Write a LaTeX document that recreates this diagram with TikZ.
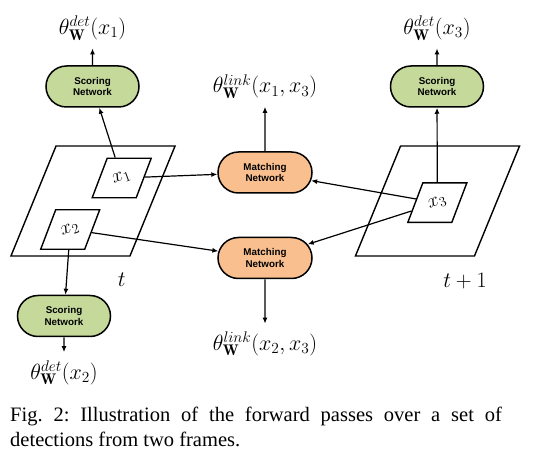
\RequirePackage{fix-cm}
\documentclass[tikz,border=0pt]{standalone}
\usepackage{fontspec}
\newfontfamily\boxfont{Liberation Sans}
\newfontfamily\capfont{Liberation Serif}
\usetikzlibrary{shapes.misc,arrows.meta}

\definecolor{scoregreen}{RGB}{197,217,154}
\definecolor{matchorange}{RGB}{249,191,143}

\tikzset{
  net/.style={rounded rectangle, draw, line width=1.5pt, minimum width=93pt,
    minimum height=41pt, inner sep=0pt, align=center,
    font=\boxfont\bfseries\fontsize{9.8}{11.5}\selectfont},
  scoring/.style={net, fill=scoregreen},
  matching/.style={net, fill=matchorange, minimum width=94pt},
  framebox/.style={draw, line width=1.4pt, xslant=0.41, minimum width=119pt,
    minimum height=110pt, inner sep=0pt},
  detbox/.style={draw, line width=1.4pt, xslant=0.38, minimum width=44pt,
    minimum height=39.5pt, inner sep=0pt},
  tag/.style={rotate=20, font=\fontsize{20}{24}\selectfont, inner sep=0pt},
  outlabel/.style={anchor=base, font=\fontsize{22}{26}\selectfont, inner sep=0pt},
  timelabel/.style={anchor=base, font=\fontsize{22}{26}\selectfont, inner sep=0pt},
  flow/.style={-{Latex[length=6pt,width=5pt]}, line width=1.2pt},
  toout/.style={flow, shorten >=8pt},
  captext/.style={anchor=base west, inner sep=0pt,
    font=\capfont\fontsize{20.5}{24.3}\selectfont\frenchspacing},
}

\begin{document}
\begin{tikzpicture}[x=1pt,y=-1pt]
  \useasboundingbox (0,0) rectangle (541,462);

  % the two frames
  \node[framebox] (frameT)  at (93,201)    {};
  \node[framebox] (frameT1) at (437.5,201) {};

  % detections
  \node[detbox] (d1) at (121.7,178)   {};
  \node[detbox] (d2) at (70.2,229.5)  {};
  \node[detbox] (d3) at (437.3,202.7) {};
  \node[tag] (d1l) at (d1) {$x_1$};
  \node[tag] (d2l) at (d2) {$x_2$};
  \node[tag] (d3l) at (d3) {$x_3$};

  % time labels
  \node[timelabel] (tT)  at (121.7,287) {$t$};
  \node[timelabel] (tT1) at (465,287.3) {$t+1$};

  % networks
  \node[scoring]  (s1) at (92.5,86.5) {Scoring\\Network};
  \node[scoring]  (s3) at (437,86.5)  {Scoring\\Network};
  \node[scoring]  (s2) at (64,316)    {Scoring\\Network};
  \node[matching] (m1) at (265,172.5) {Matching\\Network};
  \node[matching] (m2) at (265,258)   {Matching\\Network};

  % outputs
  \node[outlabel] (o1)  at (92.5,34.7) {$\theta^{det}_{\mathbf{W}}(x_1)$};
  \node[outlabel] (o3)  at (437,34.7)  {$\theta^{det}_{\mathbf{W}}(x_3)$};
  \node[outlabel] (o2)  at (64,379)    {$\theta^{det}_{\mathbf{W}}(x_2)$};
  \node[outlabel] (o13) at (265,93)    {$\theta^{link}_{\mathbf{W}}(x_1,x_3)$};
  \node[outlabel] (o23) at (265,350.5) {$\theta^{link}_{\mathbf{W}}(x_2,x_3)$};

  % forward passes
  \draw[flow] (d1) -- (s1);
  \draw[flow] (d1) -- (m1);
  \draw[flow] (d2) -- (m2);
  \draw[flow] (d2) -- (s2);
  \draw[flow] (d3) -- (s3);
  \draw[flow] (d3) -- (m1);
  \draw[flow] (d3) -- (m2);

  \draw[toout] (s1) -- (o1);
  \draw[toout] (s3) -- (o3);
  \draw[toout] (s2) -- (o2);
  \draw[toout] (m1) -- (o13);
  \draw[toout] (m2) -- (o23);

  % caption
  \node[captext] (cap1) at (10,421.7)
    {\makebox[491.7pt][s]{Fig. 2: Illustration of the forward passes over a set of}};
  \node[captext] (cap2) at (10,446) {detections from two frames.};
\end{tikzpicture}
\end{document}
